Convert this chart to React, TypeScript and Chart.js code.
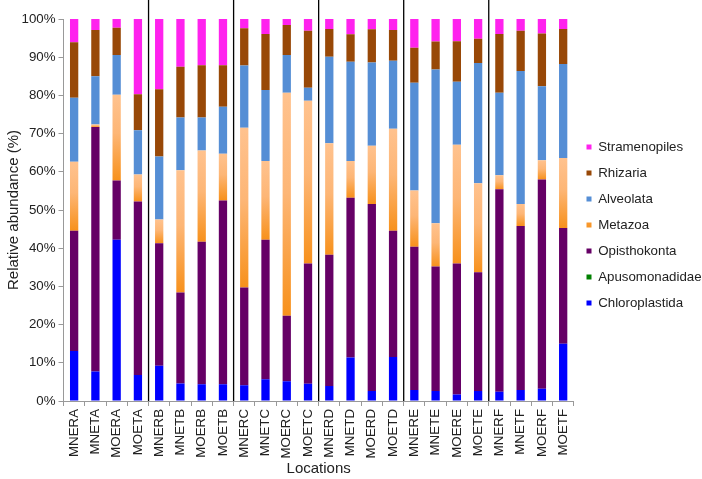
import React, { useEffect, useRef } from 'react';
import { Chart, registerables } from 'chart.js';

Chart.register(...registerables);

const categories = [
  'MNERA', 'MNETA', 'MOERA', 'MOETA',
  'MNERB', 'MNETB', 'MOERB', 'MOETB',
  'MNERC', 'MNETC', 'MOERC', 'MOETC',
  'MNERD', 'MNETD', 'MOERD', 'MOETD',
  'MNERE', 'MNETE', 'MOERE', 'MOETE',
  'MNERF', 'MNETF', 'MOERF', 'MOETF',
];

const chloroplastida = [13.1, 7.7, 42.2, 6.8, 9.2, 4.6, 4.4, 4.4, 4.1, 5.7, 5.2, 4.5, 3.9, 11.4, 2.6, 11.5, 2.9, 2.6, 1.7, 2.6, 2.4, 2.9, 3.2, 15.0];
const apusomonadidae = [0, 0, 0, 0, 0, 0, 0, 0, 0, 0, 0, 0, 0, 0, 0, 0, 0, 0, 0, 0, 0, 0, 0, 0];
const opisthokonta = [31.5, 64.0, 15.5, 45.4, 32.1, 23.8, 37.3, 48.1, 25.6, 36.5, 17.1, 31.5, 34.4, 41.8, 49.0, 33.1, 37.5, 32.6, 34.3, 31.1, 53.0, 42.9, 54.8, 30.3];
const metazoa = [18.0, 0.7, 22.5, 7.1, 6.2, 32.0, 23.9, 12.2, 41.8, 20.6, 58.4, 42.6, 29.2, 9.6, 15.2, 26.7, 14.7, 11.3, 31.1, 23.3, 3.7, 5.8, 5.0, 18.3];
const alveolata = [16.8, 12.6, 10.4, 11.6, 16.5, 13.8, 8.6, 12.3, 16.3, 18.6, 9.9, 3.4, 22.6, 26.0, 21.8, 17.8, 28.2, 40.3, 16.5, 31.5, 21.6, 34.8, 19.4, 24.6];
const rhizaria = [14.5, 12.1, 7.1, 9.4, 17.6, 13.3, 13.7, 10.9, 9.8, 14.7, 7.8, 14.9, 7.3, 7.2, 8.7, 8.0, 9.2, 7.3, 10.6, 6.3, 15.4, 10.5, 13.8, 9.2];
const stramenopiles = [6.1, 2.9, 2.3, 19.7, 18.4, 12.5, 12.1, 12.1, 2.4, 3.9, 1.6, 3.1, 2.6, 4.0, 2.7, 2.9, 7.5, 5.9, 5.8, 5.2, 3.9, 3.1, 3.8, 2.6];

const yTickValues = [0, 10, 20, 30, 40, 50, 60, 70, 80, 90, 100];

const FONT = "'Liberation Sans', Arial, sans-serif";
const TICK_SIZE = 13.3;
const TITLE_SIZE = 15;

const metazoaFill = (ctx: any) => {
  const chart = ctx.chart;
  const flat = '#FDB06C';
  if (ctx.type !== 'data' || !chart.chartArea || !chart.scales || !chart.scales.y) return flat;
  const i = ctx.dataIndex;
  const base = chloroplastida[i] + apusomonadidae[i] + opisthokonta[i];
  const top = base + metazoa[i];
  const ys = chart.scales.y;
  const y0 = ys.getPixelForValue(top);
  const y1 = ys.getPixelForValue(base);
  if (!isFinite(y0) || !isFinite(y1) || y1 - y0 < 1) return flat;
  const g = chart.ctx.createLinearGradient(0, y0, 0, y1);
  g.addColorStop(0, '#FFC28E');
  g.addColorStop(0.45, '#FDB676');
  g.addColorStop(1, '#F7911C');
  return g;
};

const separatorPlugin = {
  id: 'groupSeparators',
  afterDatasetsDraw(chart: any) {
    const xs = chart.scales.x;
    const { ctx, chartArea } = chart;
    ctx.save();
    ctx.strokeStyle = '#000';
    ctx.lineWidth = 1.3;
    categories.forEach((c, i) => {
      if (i === 0 || c.slice(-1) === categories[i - 1].slice(-1)) return;
      const px = (xs.getPixelForValue(i - 1) + xs.getPixelForValue(i)) / 2;
      ctx.beginPath();
      ctx.moveTo(px, 0);
      ctx.lineTo(px, chartArea.bottom);
      ctx.stroke();
    });
    ctx.restore();
  },
};

export default function App() {
  const ref = useRef<HTMLCanvasElement>(null);
  useEffect(() => {
    document.body.style.margin = '0';
    const canvas = ref.current!;
    const mk = (label: string, data: number[], color: any) => ({
      label,
      data,
      backgroundColor: color,
      borderWidth: 0,
      categoryPercentage: 1,
      barPercentage: 0.39,
    });
    const chart = new Chart(canvas, {
      type: 'bar',
      data: {
        labels: categories,
        datasets: [
          mk('Chloroplastida', chloroplastida, '#0000FF'),
          mk('Apusomonadidae', apusomonadidae, '#008000'),
          mk('Opisthokonta', opisthokonta, '#660066'),
          mk('Metazoa', metazoa, metazoaFill),
          mk('Alveolata', alveolata, '#558ED5'),
          mk('Rhizaria', rhizaria, '#984807'),
          mk('Stramenopiles', stramenopiles, '#FF22EE'),
        ],
      },
      options: {
        responsive: false,
        animation: false,
        layout: { padding: { top: 19, right: -9.65, left: 0, bottom: 0 } },
        font: { family: FONT, size: TICK_SIZE },
        color: '#222',
        plugins: {
          tooltip: { enabled: false },
          legend: {
            position: 'right',
            align: 'start',
            reverse: true,
            title: {
              display: true,
              text: '',
              font: { size: 1, lineHeight: 1 },
              padding: { top: 107.65, bottom: 0 },
            },
            labels: {
              boxWidth: 5,
              boxHeight: 5,
              padding: 12.7,
              color: '#222',
              font: { family: FONT, size: TICK_SIZE },
            },
          },
        },
        scales: {
          x: {
            stacked: true,
            afterFit: (s: any) => { s.height = 78; },
            grid: { drawOnChartArea: false, tickLength: 5, color: '#999', offset: true },
            border: { color: '#999' },
            ticks: {
              autoSkip: false,
              maxRotation: 90,
              minRotation: 90,
              padding: 3,
              color: '#222',
              font: { family: FONT, size: TICK_SIZE },
            },
            title: {
              display: true,
              text: 'Locations',
              color: '#222',
              font: { family: FONT, size: TITLE_SIZE },
              padding: { top: 0, bottom: 1 },
            },
          },
          y: {
            stacked: true,
            min: 0,
            max: 100,
            afterFit: (s: any) => { s.width = 63.5; },
            afterBuildTicks: (s: any) => { s.ticks = yTickValues.map((v) => ({ value: v })); },
            grid: { drawOnChartArea: false, tickLength: 5, color: '#999' },
            border: { color: '#999' },
            ticks: {
              padding: 3,
              color: '#222',
              font: { family: FONT, size: TICK_SIZE },
              callback: (v: any) => `${v}%`,
            },
            title: {
              display: true,
              text: 'Relative abundance (%)',
              color: '#222',
              font: { family: FONT, size: TITLE_SIZE },
              padding: { top: 5, bottom: 0 },
            },
          },
        },
      },
      plugins: [separatorPlugin],
    });
    return () => chart.destroy();
  }, []);
  return (
    <div style={{ position: 'absolute', left: 0, top: 0, width: 702, height: 479 }}>
      <canvas ref={ref} width={702} height={479} style={{ width: 702, height: 479 }} />
    </div>
  );
}
